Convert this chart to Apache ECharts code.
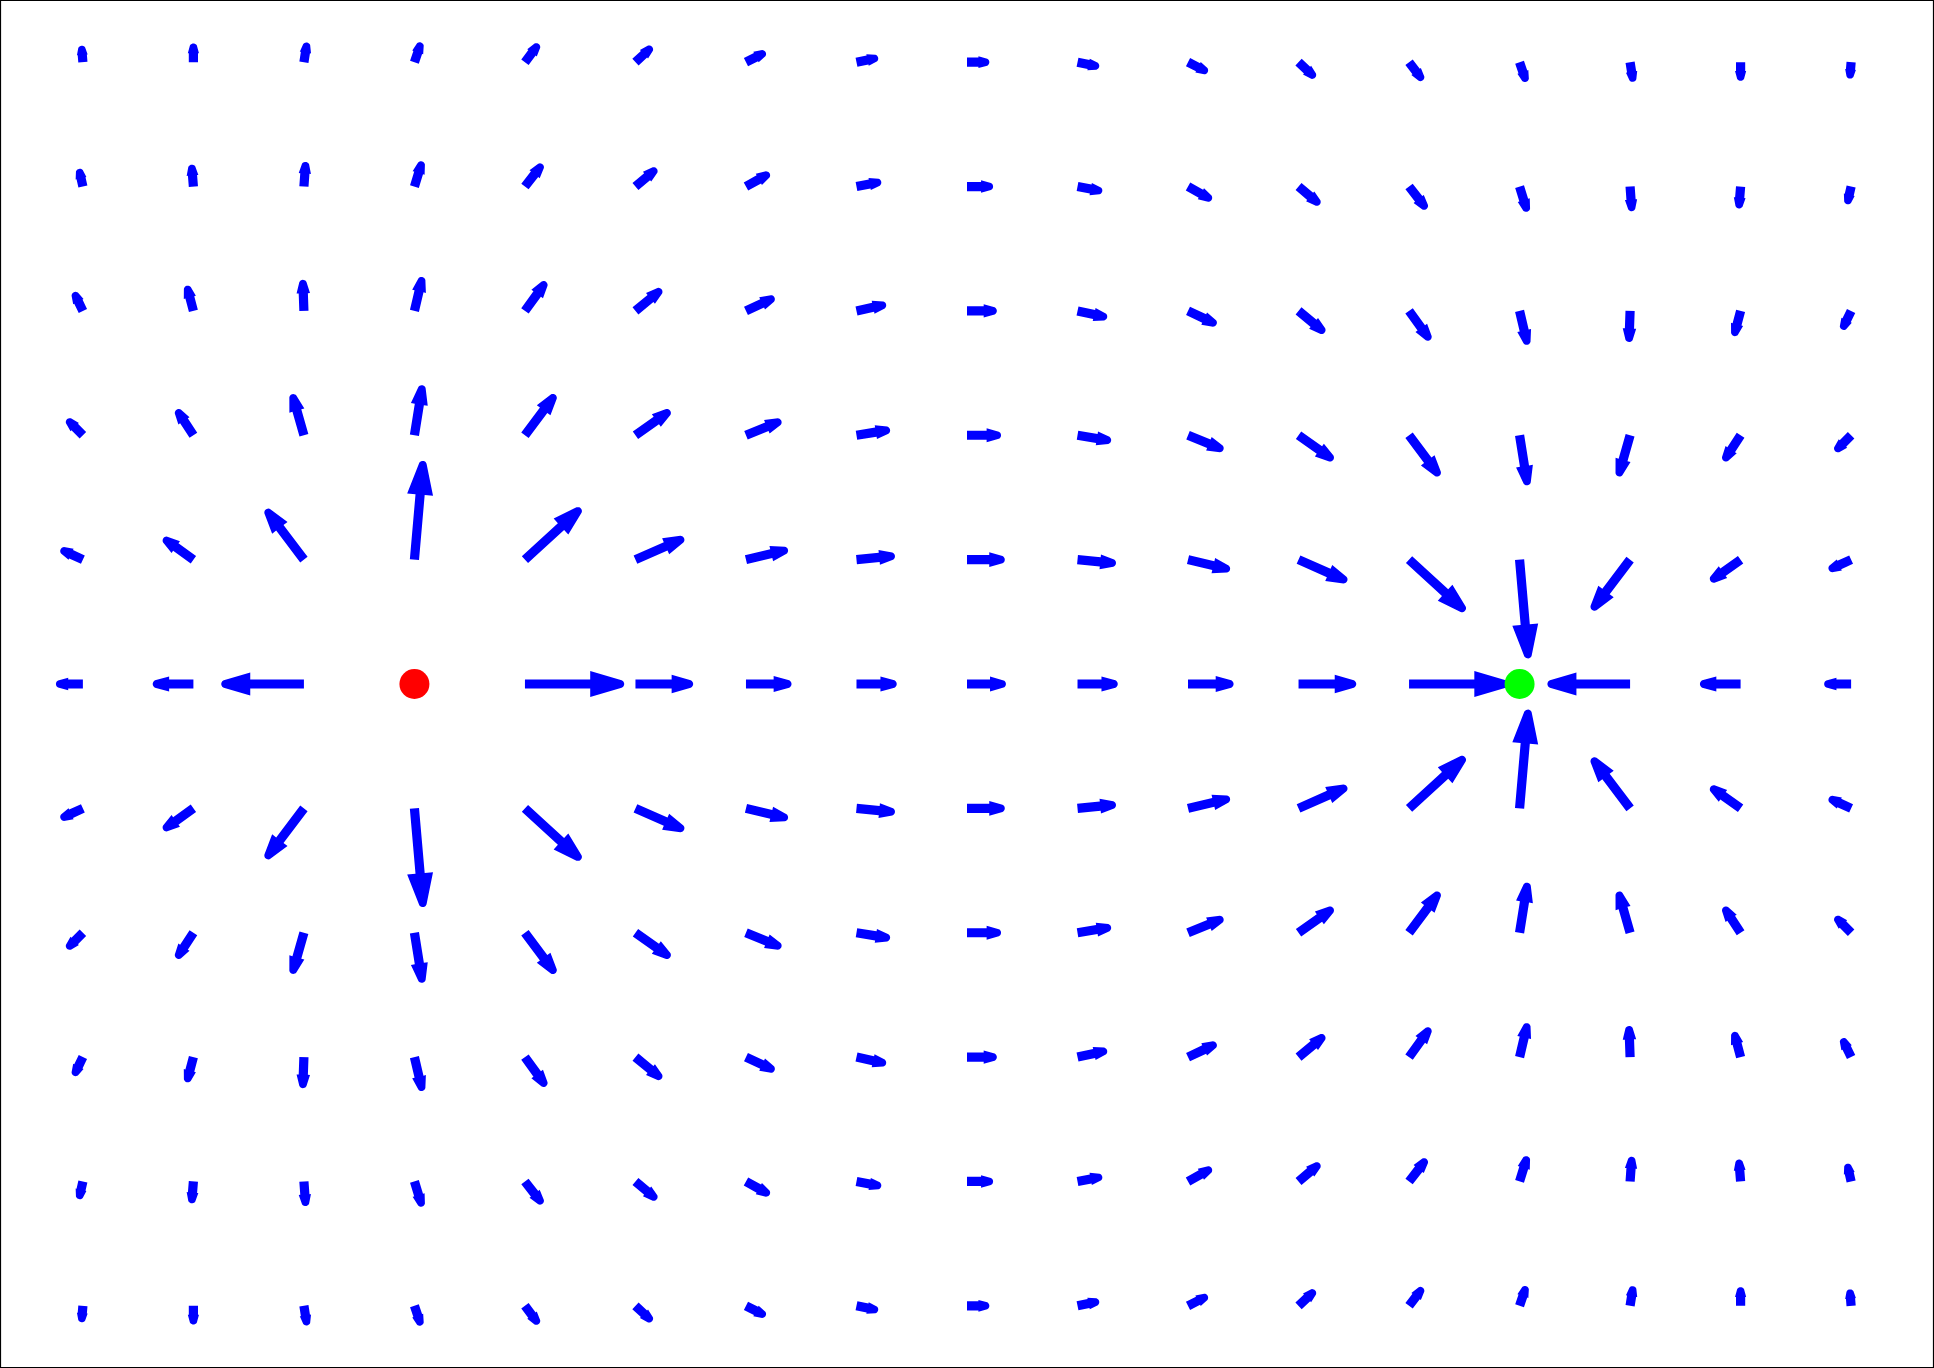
<!DOCTYPE html>
<html>
<head>
<meta charset="utf-8">
<script src="https://cdn.jsdelivr.net/npm/echarts@6/dist/echarts.min.js"></script>
<style>
html,body{margin:0;padding:0;background:#fff;}
#chart{width:1934px;height:1368px;}
</style>
</head>
<body>
<div id="chart"></div>
<script>
// grid sample positions
const xs = [-4, -3.5, -3, -2.5, -2, -1.5, -1, -0.5, 0, 0.5, 1, 1.5, 2, 2.5, 3, 3.5, 4];
const ys = [2.5, 2, 1.5, 1, 0.5, 0, -0.5, -1, -1.5, -2, -2.5];

// vector components (data units), rows top to bottom
const U = [
  [-0.006, 0, 0.014, 0.030, 0.062, 0.075, 0.089, 0.098, 0.101, 0.098, 0.089, 0.075, 0.062, 0.030, 0.014, 0, -0.006],
  [-0.018, -0.008, 0.008, 0.035, 0.079, 0.096, 0.107, 0.112, 0.118, 0.112, 0.107, 0.096, 0.079, 0.035, 0.008, -0.008, -0.018],
  [-0.041, -0.030, -0.005, 0.036, 0.095, 0.118, 0.129, 0.134, 0.135, 0.134, 0.129, 0.118, 0.095, 0.036, -0.005, -0.030, -0.041],
  [-0.072, -0.076, -0.053, 0.036, 0.137, 0.157, 0.160, 0.152, 0.154, 0.152, 0.160, 0.157, 0.137, 0.036, -0.053, -0.076, -0.072],
  [-0.101, -0.136, -0.172, 0.039, 0.253, 0.220, 0.190, 0.174, 0.171, 0.174, 0.190, 0.220, 0.253, 0.039, -0.172, -0.136, -0.101],
  [-0.122, -0.184, -0.374, null, 0.449, 0.261, 0.206, 0.182, 0.176, 0.182, 0.206, 0.261, 0.449, null, -0.374, -0.184, -0.122],
  [-0.101, -0.136, -0.172, 0.039, 0.253, 0.220, 0.190, 0.174, 0.171, 0.174, 0.190, 0.220, 0.253, 0.039, -0.172, -0.136, -0.101],
  [-0.072, -0.076, -0.053, 0.036, 0.137, 0.157, 0.160, 0.152, 0.154, 0.152, 0.160, 0.157, 0.137, 0.036, -0.053, -0.076, -0.072],
  [-0.041, -0.030, -0.005, 0.036, 0.095, 0.118, 0.129, 0.134, 0.135, 0.134, 0.129, 0.118, 0.095, 0.036, -0.005, -0.030, -0.041],
  [-0.018, -0.008, 0.008, 0.035, 0.079, 0.096, 0.107, 0.112, 0.118, 0.112, 0.107, 0.096, 0.079, 0.035, 0.008, -0.008, -0.018],
  [-0.006, 0, 0.014, 0.030, 0.062, 0.075, 0.089, 0.098, 0.101, 0.098, 0.089, 0.075, 0.062, 0.030, 0.014, 0, -0.006]
];
const V = [
  [0.066, 0.075, 0.079, 0.079, 0.073, 0.062, 0.040, 0.018, 0, -0.018, -0.040, -0.062, -0.073, -0.079, -0.079, -0.075, -0.066],
  [0.071, 0.088, 0.099, 0.101, 0.090, 0.072, 0.053, 0.019, 0, -0.019, -0.053, -0.072, -0.090, -0.101, -0.099, -0.088, -0.071],
  [0.075, 0.101, 0.125, 0.136, 0.117, 0.087, 0.054, 0.026, 0, -0.026, -0.054, -0.087, -0.117, -0.136, -0.125, -0.101, -0.075],
  [0.064, 0.103, 0.165, 0.201, 0.163, 0.099, 0.058, 0.022, 0, -0.022, -0.058, -0.099, -0.163, -0.201, -0.165, -0.103, -0.064],
  [0.041, 0.086, 0.202, 0.397, 0.206, 0.086, 0.040, 0.015, 0, -0.015, -0.040, -0.086, -0.206, -0.397, -0.202, -0.086, -0.041],
  [0, 0, 0, null, 0, 0, 0, 0, 0, 0, 0, 0, 0, null, 0, 0, 0],
  [-0.041, -0.086, -0.202, -0.397, -0.206, -0.086, -0.040, -0.015, 0, 0.015, 0.040, 0.086, 0.206, 0.397, 0.202, 0.086, 0.041],
  [-0.064, -0.103, -0.165, -0.201, -0.163, -0.099, -0.058, -0.022, 0, 0.022, 0.058, 0.099, 0.163, 0.201, 0.165, 0.103, 0.064],
  [-0.075, -0.101, -0.125, -0.136, -0.117, -0.087, -0.054, -0.026, 0, 0.026, 0.054, 0.087, 0.117, 0.136, 0.125, 0.101, 0.075],
  [-0.071, -0.088, -0.099, -0.101, -0.090, -0.072, -0.053, -0.019, 0, 0.019, 0.053, 0.072, 0.090, 0.101, 0.099, 0.088, 0.071],
  [-0.066, -0.075, -0.079, -0.079, -0.073, -0.062, -0.040, -0.018, 0, 0.018, 0.040, 0.062, 0.073, 0.079, 0.079, 0.075, 0.066]
];

// point charges
const positiveCharge = [[-2.5, 0]];
const negativeCharge = [[2.5, 0]];

const arrowData = [];
for (let r = 0; r < ys.length; r++) {
  for (let c = 0; c < xs.length; c++) {
    if (U[r][c] === null || V[r][c] === null) continue;
    arrowData.push([xs[c], ys[r], U[r][c], V[r][c]]);
  }
}

function renderArrow(params, api) {
  const x = api.value(0), y = api.value(1), u = api.value(2), v = api.value(3);
  const p0 = api.coord([x, y]);
  const p1 = api.coord([x + u, y + v]);
  const dx = p1[0] - p0[0], dy = p1[1] - p0[1];
  const L = Math.sqrt(dx * dx + dy * dy);
  if (L < 1) return null;
  const ca = dx / L, sa = dy / L;
  const hl = 4.2 + 0.3 * L;
  const h = (7.7 + 0.184 * L) / 2;
  const sw = 4.6;
  const r = Math.min(4, h * 0.85);
  const alpha = Math.atan2(h, hl);
  const local = [];
  local.push([0, sw]);
  local.push([L - hl, sw]);
  local.push([L - hl, h]);
  const phiMax = Math.PI / 2 - alpha;
  const n = 10;
  for (let i = 0; i <= n; i++) {
    const phi = phiMax - (2 * phiMax) * i / n;
    local.push([L - r + r * Math.cos(phi), r * Math.sin(phi)]);
  }
  local.push([L - hl, -h]);
  local.push([L - hl, -sw]);
  local.push([0, -sw]);
  const pts = local.map(function (q) {
    return [p0[0] + q[0] * ca - q[1] * sa, p0[1] + q[0] * sa + q[1] * ca];
  });
  return {
    type: 'polygon',
    shape: { points: pts },
    style: { fill: '#0000ff', stroke: null }
  };
}

const chart = echarts.init(document.getElementById('chart'), null, { renderer: 'canvas' });
chart.setOption({
  animation: false,
  backgroundColor: '#ffffff',
  grid: { left: 0, right: 0, top: 0, bottom: 0, show: false },
  xAxis: { type: 'value', min: -4.375, max: 4.375, show: false },
  yAxis: { type: 'value', min: -2.75, max: 2.75, show: false },
  graphic: [{
    type: 'rect',
    shape: { x: 0.5, y: 0.5, width: 1933, height: 1367 },
    style: { fill: null, stroke: '#000000', lineWidth: 1.2 },
    z: 100
  }],
  series: [
    {
      type: 'custom',
      renderItem: renderArrow,
      data: arrowData,
      clip: false,
      silent: true
    },
    {
      type: 'scatter',
      data: positiveCharge,
      symbol: 'circle',
      symbolSize: 30,
      itemStyle: { color: '#ff0000', opacity: 1 },
      z: 5
    },
    {
      type: 'scatter',
      data: negativeCharge,
      symbol: 'circle',
      symbolSize: 30,
      itemStyle: { color: '#00ff00', opacity: 1 },
      z: 5
    }
  ]
});
</script>
</body>
</html>
